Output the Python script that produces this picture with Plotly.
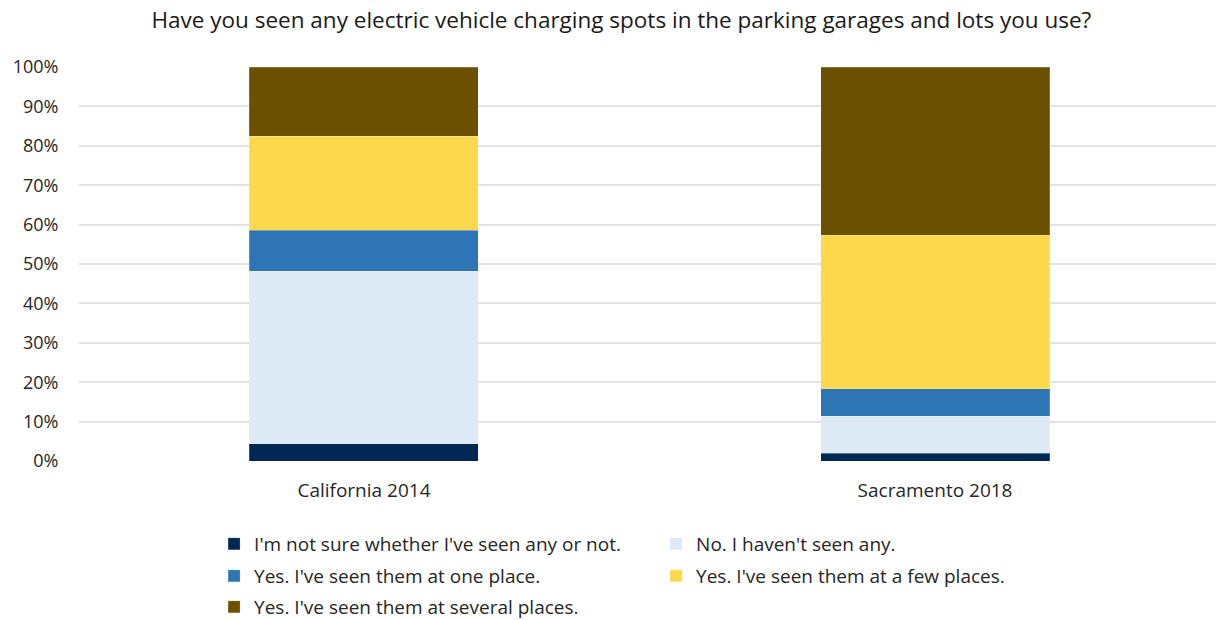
import plotly.graph_objects as go

categories = ["California 2014", "Sacramento 2018"]
series_names = [
    "I'm not sure whether I've seen any or not.",
    "No. I haven't seen any.",
    "Yes. I've seen them at one place.",
    "Yes. I've seen them at a few places.",
    "Yes. I've seen them at several places.",
]
not_sure = [4.4, 2.0]
none_seen = [43.8, 9.4]
one_place = [10.4, 6.9]
few_places = [23.8, 39.0]
several_places = [17.6, 42.7]
y_ticks = [0, 10, 20, 30, 40, 50, 60, 70, 80, 90, 100]
y_tick_labels = [f"{v}%" for v in y_ticks]

series_values = [not_sure, none_seen, one_place, few_places, several_places]
colors = ["#002855", "#DDE9F5", "#2E75B6", "#FED84C", "#6A5000"]
legend_ids = ["legend", "legend", "legend2", "legend2", "legend3"]

FONT = "'Open Sans', sans-serif"

fig = go.Figure()
for name, vals, col, lg in zip(series_names, series_values, colors, legend_ids):
    fig.add_trace(go.Bar(
        x=categories, y=vals, name=name, legend=lg,
        marker=dict(color=col, line=dict(color="rgba(255,255,255,0.4)", width=0.5)),
        width=0.401,
    ))

legend_common = dict(
    orientation="h", traceorder="normal",
    x=0.1188, xanchor="left", yanchor="middle", yref="container",
    entrywidth=397, entrywidthmode="pixels",
    font=dict(family=FONT, size=19, color="#262626"),
    itemwidth=30, bgcolor="rgba(0,0,0,0)",
)

fig.update_layout(
    barmode="stack",
    width=1216, height=620,
    paper_bgcolor="white", plot_bgcolor="white",
    margin=dict(l=79, r=0, t=67, b=159),
    font=dict(family=FONT, size=18, color="#262626"),
    title=dict(
        text="Have you seen any electric vehicle charging spots in the parking garages and lots you use?",
        x=0.511, xanchor="center", y=0.967, yanchor="middle",
        font=dict(family=FONT, size=22.5, color="#1a1a1a"),
    ),
    xaxis=dict(
        range=[-0.499, 1.492],
        showgrid=False, showline=False, zeroline=False,
        ticks="outside", ticklen=12, tickcolor="rgba(0,0,0,0)",
        tickfont=dict(size=19),
    ),
    yaxis=dict(
        range=[0, 100], tickvals=y_ticks, ticktext=y_tick_labels,
        showgrid=True, gridcolor="#E2E2E2", gridwidth=1.5,
        zeroline=False, showline=False,
        ticks="outside", ticklen=16, tickcolor="rgba(0,0,0,0)",
        tickfont=dict(size=18),
    ),
    legend=dict(y=1 - 544 / 620, **legend_common),
    legend2=dict(y=1 - 576 / 620, **legend_common),
    legend3=dict(y=1 - 607 / 620, **legend_common),
)

fig.write_html(
    "out.html",
    config={"displayModeBar": False},
    post_script="document.body.style.margin='0';",
)
